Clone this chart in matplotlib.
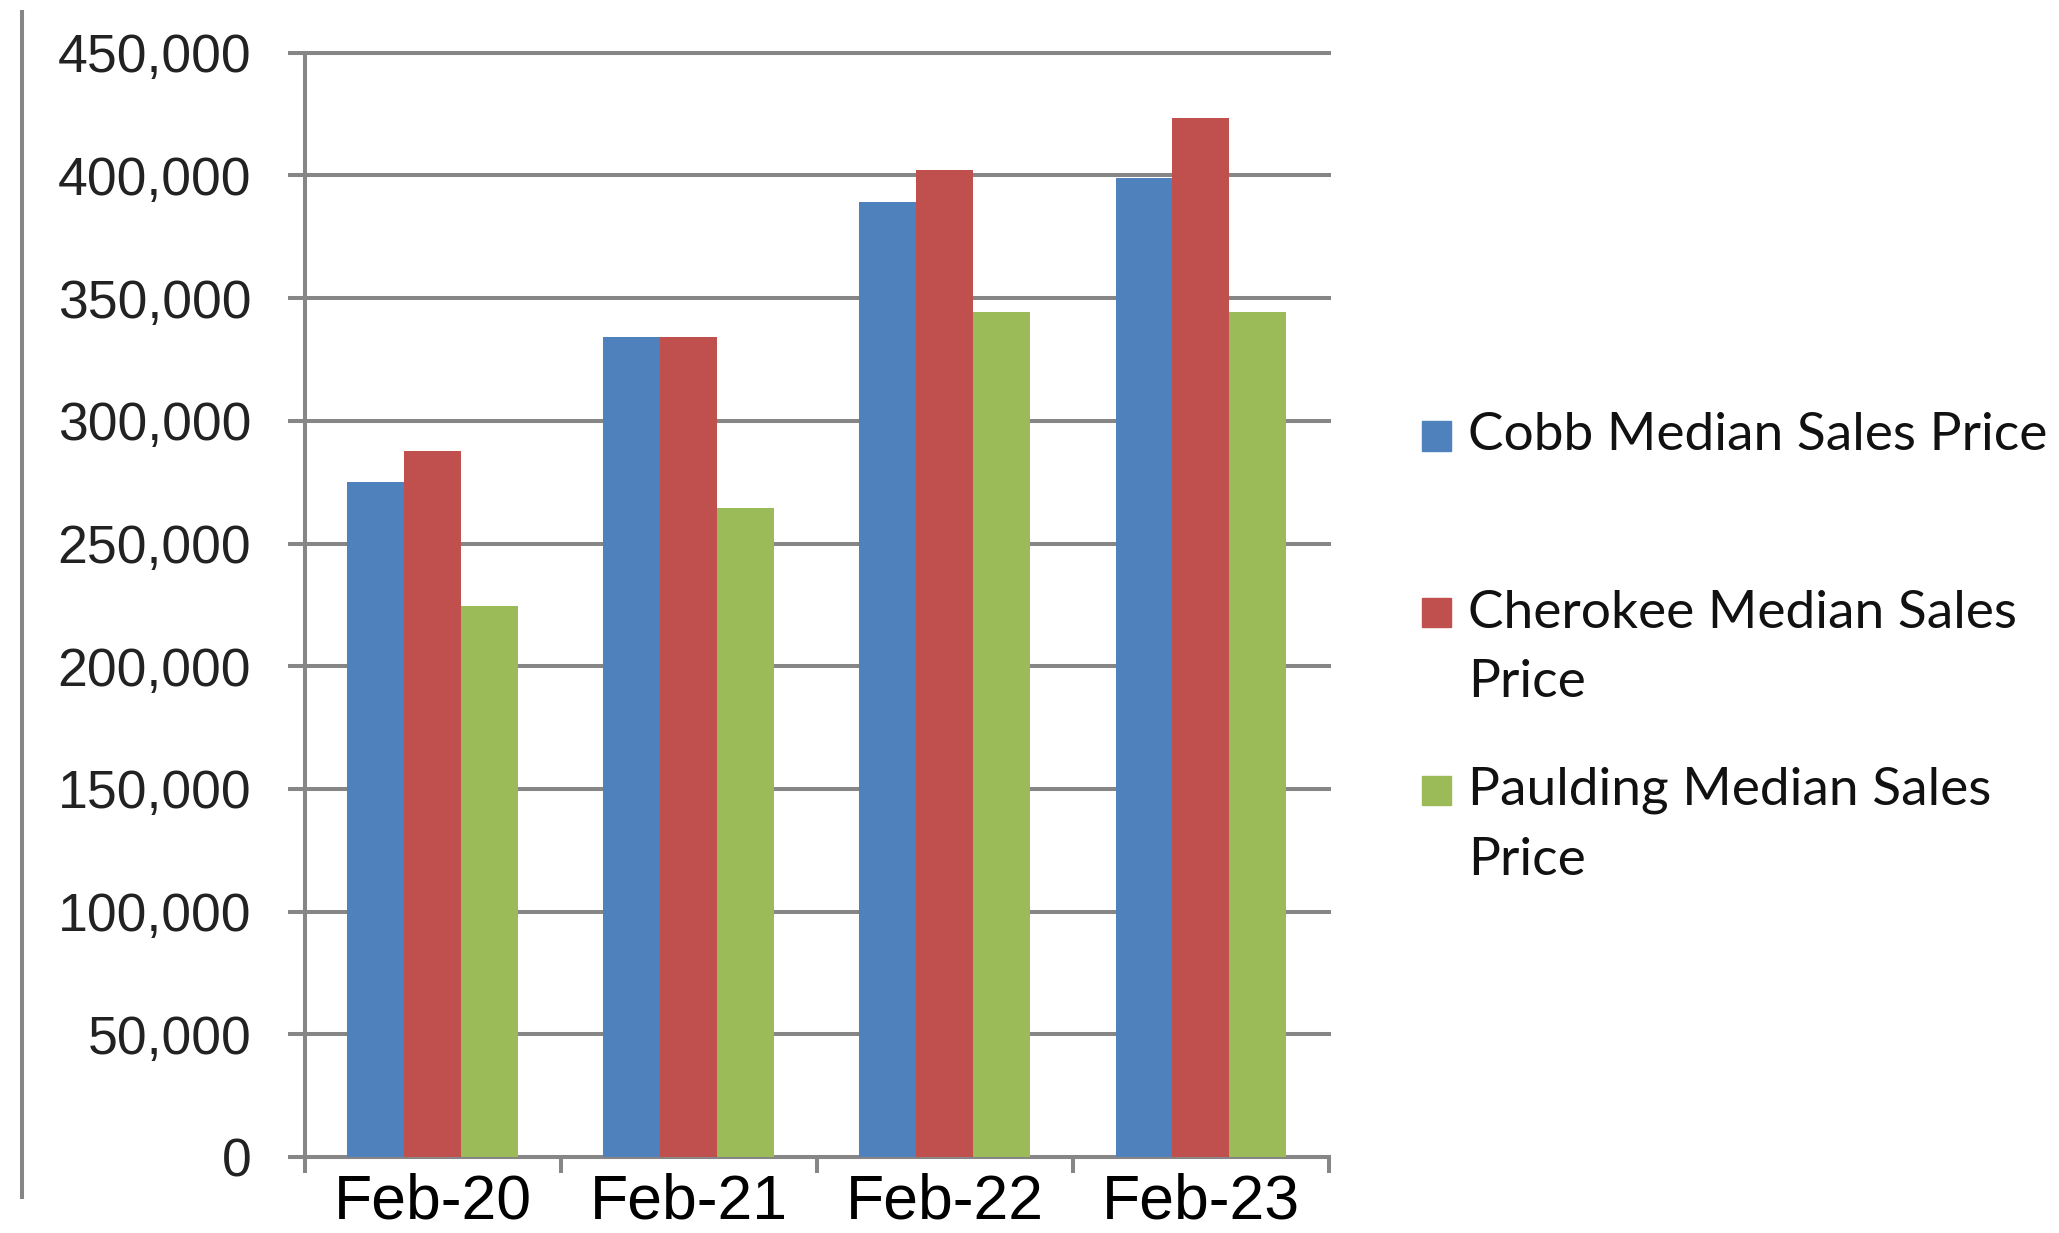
#!/usr/bin/env python3

import textwrap
import matplotlib
matplotlib.use("Agg")
import matplotlib.pyplot as plt
import matplotlib.patches as mpatches
import matplotlib.lines as mlines
import matplotlib.ticker as tck
import numpy as np

periods = ["Feb-20", "Feb-21", "Feb-22", "Feb-23"]
series_names = ["Cobb Median Sales Price", "Cherokee Median Sales Price", "Paulding Median Sales Price"]
cobb = [275000, 334000, 389000, 399000]
cherokee = [287500, 334000, 402000, 423500]
paulding = [224500, 264500, 344500, 344500]
y_ticks = list(range(0, 450001, 50000))

COLORS = ["#4F81BD", "#C0504D", "#9BBB59"]
GRAY = "#868686"
W, H = 2059, 1233
LW = 2.9

if __name__ == "__main__":
    plt.rcParams["font.family"] = ["Liberation Sans", "DejaVu Sans"]
    fig = plt.figure(figsize=(W / 100, H / 100), dpi=100)
    ax = fig.add_axes([304.6 / W, 76 / H, 1024.4 / W, 1104.3 / H])

    x = np.arange(len(periods))
    bar_w = 2 / 9
    for i, (vals, col) in enumerate(zip([cobb, cherokee, paulding], COLORS)):
        ax.bar(x + (i - 1) * bar_w, vals, width=bar_w, color=col, zorder=3)

    ax.set_xlim(-0.5, len(periods) - 0.5)
    ax.set_ylim(0, 450000)
    ax.set_yticks(y_ticks)
    ax.yaxis.set_major_formatter(tck.FuncFormatter(lambda v, p: "{:,.0f}".format(v)))
    ax.yaxis.grid(True, color=GRAY, linewidth=LW, zorder=0)
    for gl in ax.get_ygridlines():
        gl.set_clip_on(False)
    ax.set_axisbelow(True)

    ax.set_xticks(x)
    ax.set_xticklabels(periods)
    ax.xaxis.set_minor_locator(tck.FixedLocator(np.arange(-0.5, len(periods), 1.0)))
    ax.tick_params(axis="x", which="major", length=0, pad=11, labelsize=45)
    ax.tick_params(axis="x", which="minor", length=11.5, width=LW, color=GRAY)
    ax.tick_params(axis="y", length=12, width=LW, color=GRAY, pad=26.5, labelsize=38.5, labelcolor="#222222")

    for s in ["top", "right"]:
        ax.spines[s].set_visible(False)
    for s in ["left", "bottom"]:
        ax.spines[s].set_color(GRAY)
        ax.spines[s].set_linewidth(LW)

    # left frame line of the picture
    fig.add_artist(mlines.Line2D([21.7 / W] * 2, [1 - 12 / H, 1 - 1197 / H], color=GRAY, linewidth=LW))

    # legend, drawn by hand to mimic the wrapped entries
    entry_tops = [436, 613, 790.5]
    line_step = 70
    for name, col, yc in zip(series_names, COLORS, entry_tops):
        fig.add_artist(mpatches.Rectangle((1422 / W, 1 - (yc + 14.5) / H), 29 / W, 29 / H,
                                          transform=fig.transFigure, color=col))
        lines = [name] if name.startswith("Cobb") else textwrap.wrap(name, 21)
        for j, ln in enumerate(lines):
            fig.text(1468 / W, 1 - (yc + j * line_step) / H, ln, fontsize=38.3, family=["Lato", "DejaVu Sans"],
                     va="center", ha="left", color="#111111")

    plt.savefig("out.png", dpi=100)
